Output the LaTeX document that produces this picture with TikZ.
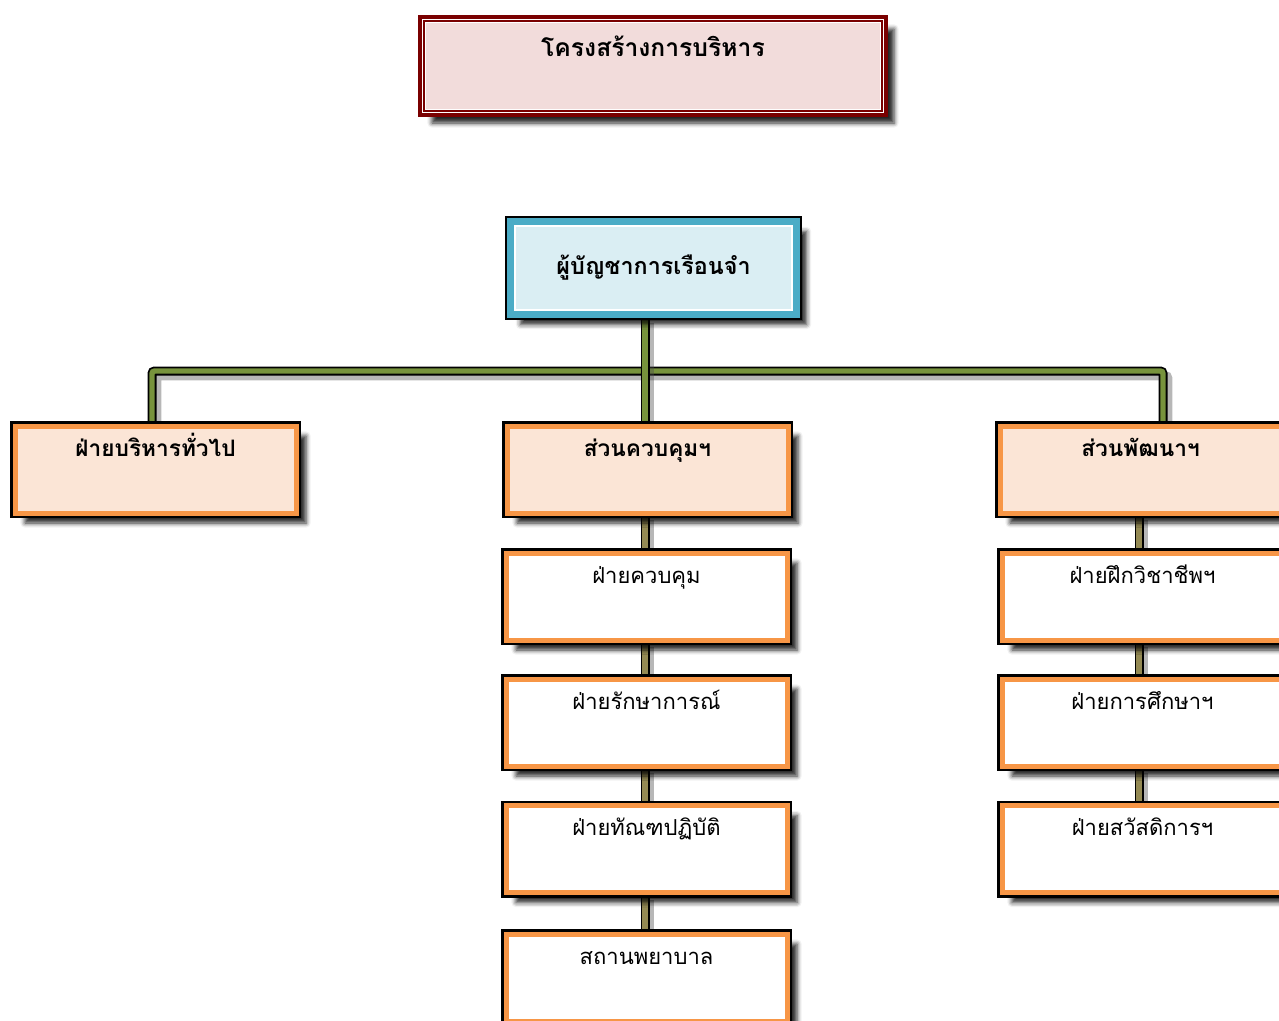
\documentclass[tikz,border=0pt]{standalone}
\usepackage{fontspec}
\newfontfamily\thaifont[Script=Thai]{Loma}
\usetikzlibrary{shadows.blur,calc}
\pgfdeclarelayer{bg}
\pgfsetlayers{bg,main}
\definecolor{tred}{HTML}{7A0000}
\definecolor{tpink}{HTML}{F2DCDB}
\definecolor{dblue}{HTML}{4BACC6}
\definecolor{dpale}{HTML}{DAEEF3}
\definecolor{borange}{HTML}{F79646}
\definecolor{bpeach}{HTML}{FBE5D6}
\definecolor{cgreen}{HTML}{77933C}
\definecolor{colive}{HTML}{948A54}
\tikzset{
  shd/.style={blur shadow={shadow xshift=7.5pt, shadow yshift=-7.5pt, shadow blur radius=3.5pt, shadow opacity=85}},
  titlebox/.style={rectangle, inner sep=0pt, minimum width=346.5pt, text height=27.75pt, text depth=42.75pt,
    shd, fill=tpink, draw=tred, line width=6pt, font=\thaifont\bfseries\fontsize{18.5}{22}\selectfont},
  dirbox/.style={rectangle, inner sep=0pt, minimum width=214.5pt, minimum height=69.75pt,
    shd, preaction={draw=black, line width=8.25pt}, fill=dpale, draw=dblue, line width=5.25pt,
    font=\thaifont\bfseries\fontsize{17.5}{21}\selectfont},
  obox/.style={rectangle, inner sep=0pt, minimum width=210.75pt, text height=22.5pt, text depth=42.75pt,
    shd, preaction={draw=black, line width=7.5pt}, fill=#1, draw=borange, line width=3.75pt},
  lvtwo/.style={obox=bpeach, font=\thaifont\bfseries\fontsize{17}{20}\selectfont},
  lvthree/.style={obox=white, font=\thaifont\fontsize{16.5}{20}\selectfont},
  conn/.style={line width=4.1pt, draw=#1, rounded corners=2pt,
    preaction={draw=black!70, opacity=0.4, line width=7pt, transform canvas={shift={(3.5pt,-3.5pt)}}},
    preaction={draw=black, line width=6.75pt}},
}
\begin{document}
\begin{tikzpicture}[x=0.75pt,y=-0.75pt]
\useasboundingbox (0,0) rectangle (1279,1021);
\clip (0,0) rectangle (1279,1021);
% title
\node[titlebox] (title) at (653,66) {โครงสร้างการบริหาร};
\draw[white, line width=3.5pt] ([shift={(6,6)}]title.north west) rectangle ([shift={(-6,-6)}]title.south east);
\draw[tred, line width=1.1pt] ([shift={(6,6)}]title.north west) rectangle ([shift={(-6,-6)}]title.south east);
% director
\node[dirbox] (dir) at (653.5,268) {ผู้บัญชาการเรือนจำ};
\draw[white, line width=1.8pt] ([shift={(8,8)}]dir.north west) rectangle ([shift={(-8,-8)}]dir.south east);
\draw[dblue, line width=0.9pt] ([shift={(6.5,6.5)}]dir.north west) rectangle ([shift={(-6.5,-6.5)}]dir.south east);
% level 2
\node[lvtwo] (l2a) at (155.5,469.5) {ฝ่ายบริหารทั่วไป};
\node[lvtwo] (l2b) at (647.5,469.5) {ส่วนควบคุมฯ};
\node[lvtwo] (l2c) at (1140.5,469.5) {ส่วนพัฒนาฯ};
% level 3 middle
\node[lvthree] (b1) at (646.5,596.5) {ฝ่ายควบคุม};
\node[lvthree] (b2) at (646.5,722.5) {ฝ่ายรักษาการณ์};
\node[lvthree] (b3) at (646.5,849) {ฝ่ายทัณฑปฏิบัติ};
\node[lvthree] (b4) at (646.5,977.5) {สถานพยาบาล};
% level 3 right
\node[lvthree] (c1) at (1142.5,596.5) {ฝ่ายฝึกวิชาชีพฯ};
\node[lvthree] (c2) at (1142.5,722.5) {ฝ่ายการศึกษาฯ};
\node[lvthree] (c3) at (1142.5,849) {ฝ่ายสวัสดิการฯ};
% connectors
\coordinate (cx) at (645,0);
\coordinate (hr) at (1163,371);
\coordinate (rx) at (1139,0);
\begin{pgfonlayer}{bg}
\draw[conn=cgreen] (l2a.north -| 152,0) |- (hr) -- (hr |- l2c.north);
\draw[conn=cgreen] (dir.south -| cx) -- (l2b.north -| cx);
\draw[conn=colive] (l2b.south -| cx) -- (b1.north -| cx);
\draw[conn=colive] (b1.south -| cx) -- (b2.north -| cx);
\draw[conn=colive] (b2.south -| cx) -- (b3.north -| cx);
\draw[conn=colive] (b3.south -| cx) -- (b4.north -| cx);
\draw[conn=colive] (l2c.south -| rx) -- (c1.north -| rx);
\draw[conn=colive] (c1.south -| rx) -- (c2.north -| rx);
\draw[conn=colive] (c2.south -| rx) -- (c3.north -| rx);
\end{pgfonlayer}
\end{tikzpicture}
\end{document}
